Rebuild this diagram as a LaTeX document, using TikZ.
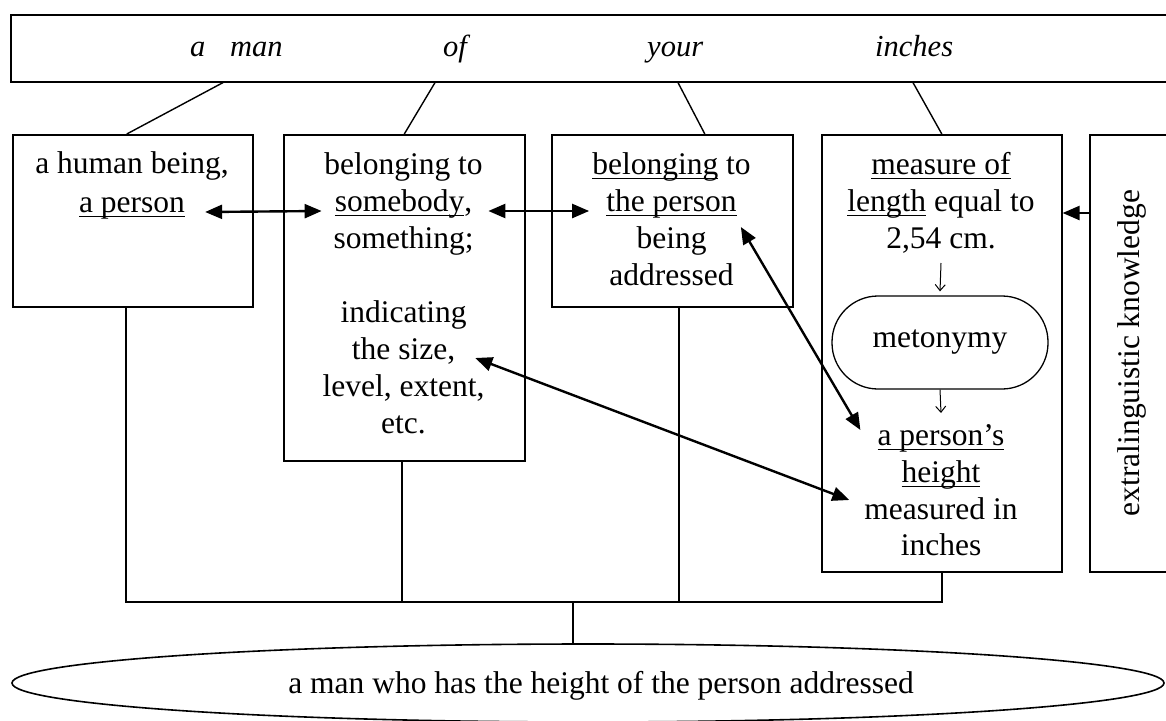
\documentclass[tikz,border=0pt]{standalone}
\usepackage{fontspec}
\setmainfont{Liberation Serif}
\usetikzlibrary{arrows.meta,calc,shapes.geometric}

% underline set at a fixed depth below the baseline
\newsavebox\ulbox
\newcommand\ulword[1]{\sbox\ulbox{#1}\rlap{\rule[-5pt]{\wd\ulbox}{1.5pt}}\usebox\ulbox}

\tikzset{
  box/.style={draw, line width=1.6pt, rectangle, inner sep=0pt, anchor=north west},
  txt/.style={anchor=base, inner sep=0pt, font=\fontsize{31.5}{37}\selectfont},
  word/.style={anchor=base west, inner sep=0pt, font=\fontsize{30.5}{36}\selectfont\itshape},
  conn/.style={line width=1.4pt},
  dbl/.style={line width=2.4pt, {Triangle[length=17pt,width=14pt]}-{Triangle[length=17pt,width=14pt]}},
  sgl/.style={line width=2.4pt, -{Triangle[length=17pt,width=14pt]}},
  down/.style={line width=1pt, -{Straight Barb[length=6pt,width=10pt]}}
}

\begin{document}
\begin{tikzpicture}[x=1pt, y=-1pt]
\fill[white] (0,0) rectangle (1166,720);
\clip (0,0) rectangle (1166,720);

% phrase box
\node[box, minimum width=1200, minimum height=67] (top) at (10,14) {};
\node[word] (w1) at (190,56) {a};
\node[word] (w2) at (230,56) {man};
\node[word] (w3) at (443,56) {of};
\node[word] (w4) at (647,56) {your};
\node[word] (w5) at (875,56) {inches};

% meaning boxes
\node[box, minimum width=240, minimum height=172] (b1) at (12,134) {};
\node[box, minimum width=241, minimum height=326] (b2) at (283,134) {};
\node[box, minimum width=241, minimum height=172] (b3) at (551,134) {};
\node[box, minimum width=240, minimum height=437] (b4) at (821,134) {};
\node[box, minimum width=140, minimum height=437] (b5) at (1089,134) {};

% box 1
\node[txt] (b1a) at (132,173) {a human being,};
\node[txt] (b1b) at (132,212) {\ulword{a person}};

% box 2
\node[txt] (b2a) at (403.5,174) {belonging to};
\node[txt] (b2b) at (403.5,211) {\ulword{somebody},};
\node[txt] (b2c) at (403.5,248) {something;};
\node[txt] (b2d) at (403.5,322) {indicating};
\node[txt] (b2f) at (403.5,359) {the size,};
\node[txt] (b2g) at (403.5,396) {level, extent,};
\node[txt] (b2h) at (403.5,433) {etc.};

% box 3
\node[txt] (b3a) at (671.5,174) {\ulword{belonging} to};
\node[txt] (b3b) at (671.5,211) {\ulword{the person}};
\node[txt] (b3c) at (671.5,248) {being};
\node[txt] (b3d) at (671.5,285) {addressed};

% box 4
\node[txt] (b4a) at (941,174) {\ulword{measure of}};
\node[txt] (b4b) at (941,211) {\ulword{length} equal to};
\node[txt] (b4c) at (941,248) {2,54 cm.};
\node[draw, line width=1.3pt, rounded corners=46pt, minimum width=216, minimum height=93,
      inner sep=0pt, font=\fontsize{31.5}{37}\selectfont] (meto) at (940,342.5) {metonymy};
\node[txt] (b4e) at (941,445) {\ulword{a person’s}};
\node[txt] (b4f) at (941,482) {\ulword{height}};
\node[txt] (b4g) at (941,519) {measured in};
\node[txt] (b4h) at (941,555) {inches};

% box 5
\node[txt, rotate=90, anchor=center] (ext) at (1132,353) {extralinguistic knowledge};

% result
\node[draw, ellipse, line width=1.6pt, minimum width=1152, minimum height=78, inner sep=0pt] (ell) at (588,683) {};
\node[txt] (concl) at (601,693) {a man who has the height of the person addressed};

% links from the phrase to the meanings
\draw[conn] ([xshift=213pt]top.south west) -- ([xshift=-6pt]b1.north);
\draw[conn] ([xshift=425pt]top.south west) -- (b2.north);
\draw[conn] ([xshift=668pt]top.south west) -- ([xshift=32.5pt]b3.north);
\draw[conn] ([xshift=903pt]top.south west) -- (b4.north);

% links from the meanings to the result
\coordinate (bus) at (573,602);
\draw[conn] ([xshift=-7pt]b1.south) |- (bus);
\draw[conn] (b4.south) |- (bus);
\draw[conn] ([xshift=-2.5pt]b2.south) -- ([xshift=-2.5pt]b2.south |- bus);
\draw[conn] ([xshift=6.5pt]b3.south) -- ([xshift=6.5pt]b3.south |- bus);
\draw[conn] (bus) -- (bus |- ell.north);

% relations between meanings
\draw[dbl] ([xshift=20pt]b1b.base east) -- ([xshift=-13pt]b2b.base west);
\draw[dbl] ([xshift=16pt]b2b.base east) -- ([xshift=-17pt]b3b.base west);
\draw[dbl] ($(b3b.base east)+(4,16)$) -- ($(b4e.base west)+(-17,-15)$);
\draw[dbl] ($(b2f.base east)+(20,-1)$) -- ($(b4g.base west)+(-15,-19)$);
\draw[sgl] ([yshift=-2pt]b5.west |- b4b.base) -- ([yshift=-2pt]b4.east |- b4b.base);

% steps inside box 4
\draw[down] ($(b4c.base)+(0,15)$) -- ($(meto.north)+(0,-4)$);
\draw[down] (meto.south) -- ($(b4e.base)+(0,-32)$);
\end{tikzpicture}
\end{document}
